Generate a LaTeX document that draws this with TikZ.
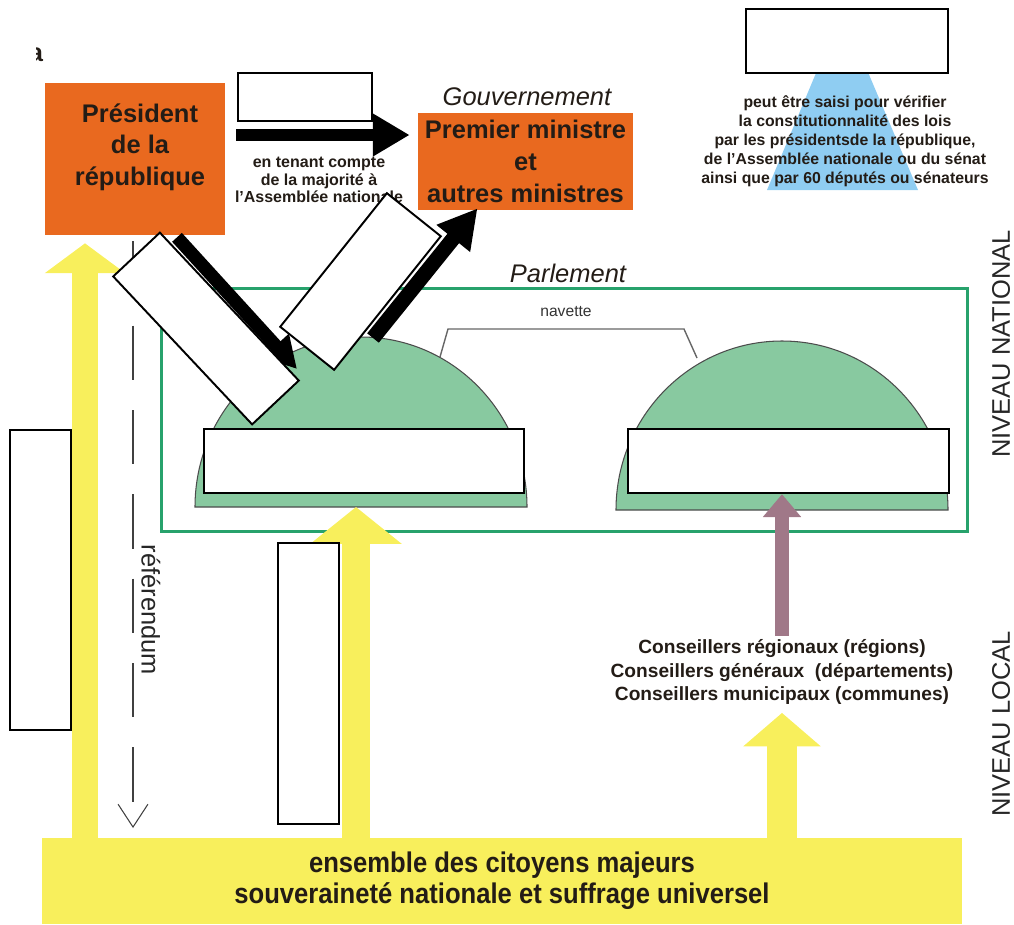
\documentclass[tikz,border=0pt]{standalone}
\usepackage{fontspec}
\setmainfont{Liberation Sans}
\newfontfamily\narrowfont{Liberation Sans}[FakeStretch=0.9]
\usetikzlibrary{arrows.meta}

\definecolor{orangebox}{HTML}{E9691F}
\definecolor{parlgreen}{HTML}{27A26C}
\definecolor{domegreen}{HTML}{88C9A0}
\definecolor{citoyens}{HTML}{F8EF5C}
\definecolor{ccblue}{HTML}{8FCDF2}
\definecolor{mauve}{HTML}{A07888}
\definecolor{ink}{HTML}{231C16}

\tikzset{
  orangebox/.style={fill=orangebox, inner sep=0pt},
  boxtext/.style={align=center, text=ink, font=\bfseries\fontsize{14.5}{18}\selectfont},
  smalltext/.style={align=center, text=ink, font=\bfseries\fontsize{9.1}{9.8}\selectfont},
  blank/.style={draw=black, fill=white, line width=1.1pt, inner sep=0pt},
  dome/.style={fill=domegreen, draw=black!70, line width=0.6pt},
  blackarrow/.style={draw=black, line width=6.8pt, -{Triangle[length=21pt,width=23pt]}},
  yarrow/.style={draw=citoyens, line width=15pt, -{Triangle[length=17pt,width=45pt]}},
  niveau/.style={rotate=90, inner sep=0pt, text=black!85, font=\fontsize{14.5}{17}\selectfont}
}

\begin{document}
\begin{tikzpicture}[x=0.02cm, y=-0.02cm]
\useasboundingbox (0,0) rectangle (1014,924);

% citoyens
\node[fill=citoyens, minimum width=18.4cm, minimum height=1.72cm, inner sep=0pt, align=center,
      text=ink, font=\narrowfont\bfseries\fontsize{16.2}{17.6}\selectfont] (peuple) at (502,881)
      {ensemble des citoyens majeurs\\souveraineté nationale et suffrage universel};

% conseil constitutionnel
\fill[ccblue] (767,190) -- (918,190) -- (842,11) -- cycle;
\node[align=center, text=ink, font=\bfseries\fontsize{9}{10.8}\selectfont] (cctxt) at (845,141)
      {peut être saisi pour vérifier\\la constitutionnalité des lois\\par les présidentsde la république,\\de l'Assemblée nationale ou du sénat\\ainsi que par 60 députés ou sénateurs};

% executif
\begin{scope}
  \clip (36,40) rectangle (60,70);
  \node[text=ink, font=\bfseries\fontsize{14.5}{17}\selectfont] (frag) at (36,55) {a};
\end{scope}
\node[orangebox, minimum width=3.6cm, minimum height=3.04cm] (pres) at (135,159) {};
\node[boxtext] (prestxt) at (140,147) {Président\\de la\\république};
\node[orangebox, boxtext, minimum width=4.3cm, minimum height=1.94cm] (pm) at (525.5,161.5)
      {Premier ministre\\et\\autres ministres};
\node[text=ink, font=\itshape\fontsize{14.5}{17}\selectfont] (gouv) at (527,97) {Gouvernement};
\node[smalltext] (tenant) at (319,180) {en tenant compte\\de la majorité à\\l'Assemblée nationale};

% parlement
\node[draw=parlgreen, line width=1.7pt, minimum width=16.14cm, minimum height=4.88cm, inner sep=0pt] (parl) at (564.5,410) {};
\node[text=ink, font=\itshape\fontsize{14.5}{17}\selectfont] (parltxt) at (568,273) {Parlement};
\coordinate (an) at (361,507);
\coordinate (se) at (782,510);
\draw[dome] (an) ++(-166,0) arc[start angle=180, end angle=360, x radius=166, y radius=170] -- cycle;
\draw[dome] (se) ++(-166,0) arc[start angle=180, end angle=360, x radius=166, y radius=169] -- cycle;
\node[text=black!80, font=\fontsize{8.9}{10}\selectfont] (nav) at (566,312) {navette};
\draw[black!60, line width=0.8pt] (440,357) -- (448,329) -- (684,329) -- (697,358);

% local
\node[align=center, text=ink, font=\bfseries\fontsize{10.9}{13.4}\selectfont, inner sep=0pt] (cons) at (782,672)
      {Conseillers régionaux (régions)\\Conseillers généraux\ \ (départements)\\Conseillers municipaux (communes)};
\draw[mauve, line width=8.5pt, -{Triangle[length=13pt,width=21pt]}, shorten <=2pt] (cons.north) -- ([yshift=9]se);

% fleches
\draw[yarrow] (peuple.north -| 85,0) -- ([shift={(-50,8)}]pres.south);
\draw[yarrow, line width=16pt, -{Triangle[length=21pt,width=51pt]}] (peuple.north -| 356,0) -- ([shift={(-5,0)}]an);
\draw[yarrow, line width=17pt, -{Triangle[length=19pt,width=43pt]}, shorten >=0.16cm] (peuple.north -| cons.south) -- (cons.south);
\draw[blackarrow] ([shift={(11,-24)}]pres.east) -- ([shift={(-8,-26.5)}]pm.west);
\draw[blackarrow, line width=7.5pt, -{Triangle[length=18pt,width=19pt]}] ([shift={(42,2)}]pres.south) -- (297,369);
\draw[blackarrow, line width=8.5pt, -{Triangle[length=22pt,width=23pt]}] ([shift={(12,1)}]an |- 0,337) -- ([shift={(-48,-2)}]pm.south);
\coordinate (refend) at (133,828);
\draw[black!75, line width=0.6pt, dash pattern=on 31pt off 17pt, -{Straight Barb[length=13pt,width=17pt]}] (pres.south -| 133,0) ++(0,6) -- (refend);
\node[rotate=-90, text=black!85, font=\fontsize{14.5}{17}\selectfont] (ref) at (151,610) {référendum};

% niveaux
\node[niveau] (natl) at (1001,344) {NIVEAU NATIONAL};
\node[niveau] (locl) at (1001,724) {NIVEAU LOCAL};

% cases
\node[blank, minimum width=2.68cm, minimum height=0.96cm] (lblNomme) at (305,97) {};
\node[blank, minimum width=4.04cm, minimum height=1.28cm] (lblConseil) at (847,41) {};
\node[blank, minimum width=4.06cm, minimum height=1.28cm, rotate=-46.8] (lblDissout) at (206,328.5) {};
\node[blank, minimum width=3.42cm, minimum height=1.38cm, rotate=51.4] (lblResp) at (360.5,281.5) {};
\node[blank, minimum width=6.4cm, minimum height=1.28cm] (lblAN) at (364,461) {};
\node[blank, minimum width=6.42cm, minimum height=1.28cm] (lblSenat) at (788.5,461) {};
\node[blank, minimum width=1.22cm, minimum height=6cm] (lblElu) at (40.5,580) {};
\node[blank, minimum width=1.22cm, minimum height=5.62cm] (lblDeputes) at (308.5,683.5) {};
\end{tikzpicture}
\end{document}
